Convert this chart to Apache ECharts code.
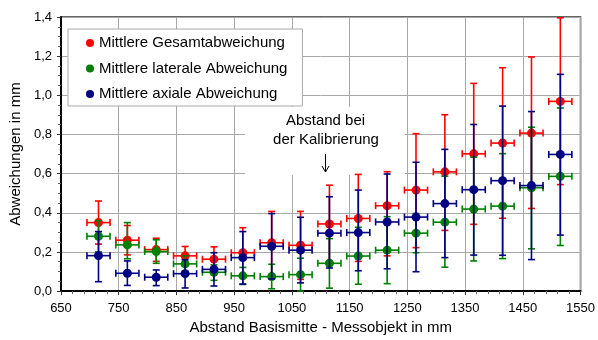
<!DOCTYPE html>
<html>
<head>
<meta charset="utf-8">
<script src="https://cdn.jsdelivr.net/npm/echarts@6/dist/echarts.min.js"></script>
<style>
html,body{margin:0;padding:0;background:#fff;}
#c{width:598px;height:340px;}
</style>
</head>
<body>
<div id="c"></div>
<script>
// Distance (mm)
const distances = [715, 765, 815, 865, 915, 965, 1015, 1065, 1115, 1165, 1215, 1265, 1315, 1365, 1415, 1465, 1515];
const xError = 20; // horizontal error (mm)

// Mittlere Gesamtabweichung
const gesamtMean = [0.350, 0.260, 0.212, 0.180, 0.163, 0.196, 0.247, 0.234, 0.343, 0.371, 0.436, 0.516, 0.609, 0.701, 0.756, 0.807, 0.969];
const gesamtLow  = [0.240, 0.185, 0.152, 0.130, 0.100, 0.070, 0.085, 0.060, 0.145, 0.152, 0.180, 0.222, 0.310, 0.341, 0.372, 0.422, 0.544];
const gesamtHigh = [0.460, 0.335, 0.270, 0.228, 0.226, 0.324, 0.407, 0.407, 0.541, 0.596, 0.610, 0.804, 0.901, 1.061, 1.141, 1.196, 1.396];

// Mittlere laterale Abweichung
const lateralMean = [0.280, 0.236, 0.202, 0.139, 0.096, 0.078, 0.074, 0.084, 0.142, 0.179, 0.209, 0.296, 0.352, 0.419, 0.434, 0.528, 0.586];
const lateralLow  = [0.200, 0.165, 0.142, 0.100, 0.055, 0.034, 0.012, 0.000, 0.015, 0.035, 0.038, 0.196, 0.122, 0.154, 0.166, 0.216, 0.233];
const lateralHigh = [0.360, 0.350, 0.262, 0.180, 0.134, 0.121, 0.137, 0.168, 0.268, 0.326, 0.380, 0.396, 0.587, 0.684, 0.702, 0.837, 0.935];

// Mittlere axiale Abweichung
const axialMean = [0.181, 0.091, 0.071, 0.089, 0.111, 0.171, 0.229, 0.209, 0.296, 0.299, 0.353, 0.378, 0.447, 0.518, 0.564, 0.539, 0.698];
const axialLow  = [0.048, 0.029, 0.028, 0.016, 0.026, 0.036, 0.062, 0.042, 0.118, 0.104, 0.114, 0.099, 0.171, 0.184, 0.183, 0.161, 0.286];
const axialHigh = [0.304, 0.154, 0.108, 0.160, 0.196, 0.304, 0.396, 0.377, 0.482, 0.516, 0.598, 0.658, 0.724, 0.851, 0.945, 0.917, 1.107];

const seriesNames = ['Mittlere Gesamtabweichung', 'Mittlere laterale Abweichung', 'Mittlere axiale Abweichung'];
const seriesColors = ['#ff0000', '#008000', '#000080'];

const FONT = '"Liberation Sans", Arial, sans-serif';

function errData(mean, low, high) {
  return distances.map((d, i) => [d, mean[i], low[i], high[i], xError]);
}

function errRender(color) {
  return function (params, api) {
    const x = api.value(0), y = api.value(1), lo = api.value(2), hi = api.value(3), xe = api.value(4);
    const pLo = api.coord([x, lo]);
    const pHi = api.coord([x, hi]);
    const pL = api.coord([x - xe, y]);
    const pR = api.coord([x + xe, y]);
    const cap = 3.5;
    const st = { stroke: color, lineWidth: 1.6, fill: null };
    const line = (x1, y1, x2, y2) => ({ type: 'line', shape: { x1, y1, x2, y2 }, style: st });
    return {
      type: 'group',
      children: [
        line(pLo[0], pLo[1], pHi[0], pHi[1]),
        line(pLo[0] - cap, pLo[1], pLo[0] + cap, pLo[1]),
        line(pHi[0] - cap, pHi[1], pHi[0] + cap, pHi[1]),
        line(pL[0], pL[1], pR[0], pR[1]),
        line(pL[0], pL[1] - cap, pL[0], pL[1] + cap),
        line(pR[0], pR[1] - cap, pR[0], pR[1] + cap)
      ]
    };
  };
}

const groups = [
  [gesamtMean, gesamtLow, gesamtHigh],
  [lateralMean, lateralLow, lateralHigh],
  [axialMean, axialLow, axialHigh]
];

const series = [];
groups.forEach((g, k) => {
  series.push({
    name: seriesNames[k],
    type: 'custom',
    renderItem: errRender(seriesColors[k]),
    data: errData(g[0], g[1], g[2]),
    encode: { x: 0, y: [1, 2, 3] },
    z: 2 + k * 2,
    silent: true,
    clip: false
  });
  series.push({
    name: seriesNames[k],
    type: 'scatter',
    data: distances.map((d, i) => [d, g[0][i]]),
    symbol: 'circle',
    symbolSize: 9,
    itemStyle: { color: seriesColors[k], opacity: 1 },
    z: 3 + k * 2,
    silent: true
  });
});

const chart = echarts.init(document.getElementById('c'), null, { renderer: 'canvas' });
chart.setOption({
  animation: false,
  backgroundColor: '#ffffff',
  textStyle: { fontFamily: FONT },
  grid: {
    left: 52, right: 15, top: 17, bottom: 42,
    show: true, borderColor: '#333333', borderWidth: 1.5, backgroundColor: 'transparent'
  },
  legend: {
    data: seriesNames.map((n, k) => ({ name: n, icon: 'circle', itemStyle: { color: seriesColors[k] } })),
    orient: 'vertical',
    left: 68, top: 29,
    padding: [5, 15, 3, 18],
    itemWidth: 8, itemHeight: 8,
    itemGap: 7.5,
    backgroundColor: '#ffffff',
    borderColor: '#aaaaaa', borderWidth: 1,
    textStyle: { fontFamily: FONT, fontSize: 15, color: '#000', lineHeight: 18 },
    selectedMode: false
  },
  xAxis: {
    type: 'value', min: 650, max: 1550, interval: 100,
    name: 'Abstand Basismitte - Messobjekt in mm',
    nameLocation: 'middle', nameGap: 28,
    nameTextStyle: { fontFamily: FONT, fontSize: 15, color: '#000' },
    axisLine: { show: true, onZero: false, lineStyle: { color: '#000', width: 2 } },
    axisTick: { show: true, inside: false, length: 4, lineStyle: { color: '#333' } },
    minorTick: { show: true, splitNumber: 5, length: 3, lineStyle: { color: '#666' } },
    axisLabel: { fontFamily: FONT, fontSize: 13, color: '#000', margin: 11,
      formatter: v => String(Math.round(v)) },
    splitLine: { show: true, lineStyle: { color: '#a8a8a8', width: 1 } }
  },
  yAxis: {
    type: 'value', min: 0, max: 1.4, interval: 0.2,
    name: 'Abweichungen in mm',
    nameLocation: 'middle', nameGap: 33,
    nameTextStyle: { fontFamily: FONT, fontSize: 15, color: '#000' },
    axisLine: { show: true, lineStyle: { color: '#000', width: 2 } },
    axisTick: { show: true, inside: false, length: 4, lineStyle: { color: '#333' } },
    minorTick: { show: true, splitNumber: 4, length: 3, lineStyle: { color: '#666' } },
    axisLabel: { fontFamily: FONT, fontSize: 13, color: '#000', margin: 9,
      formatter: v => v.toFixed(1).replace('.', ',') },
    splitLine: { show: true, lineStyle: { color: '#a8a8a8', width: 1 } }
  },
  graphic: [
    { type: 'rect', z: 1, shape: { x: 245, y: 107, width: 160, height: 68 }, style: { fill: '#ffffff' } },
    { type: 'text', z: 10, x: 325.5, y: 121, style: { text: 'Abstand bei', font: '15px ' + FONT, fill: '#000', align: 'center', verticalAlign: 'middle' } },
    { type: 'text', z: 10, x: 326, y: 140, style: { text: 'der Kalibrierung', font: '15px ' + FONT, fill: '#000', align: 'center', verticalAlign: 'middle' } },
    { type: 'line', z: 10, shape: { x1: 325.5, y1: 154, x2: 325.5, y2: 172 }, style: { stroke: '#000', lineWidth: 1 } },
    { type: 'polyline', z: 10, shape: { points: [[322, 166], [325.5, 172], [329, 166]] }, style: { stroke: '#000', lineWidth: 1, fill: null } }
  ],
  series: series
});
</script>
</body>
</html>
